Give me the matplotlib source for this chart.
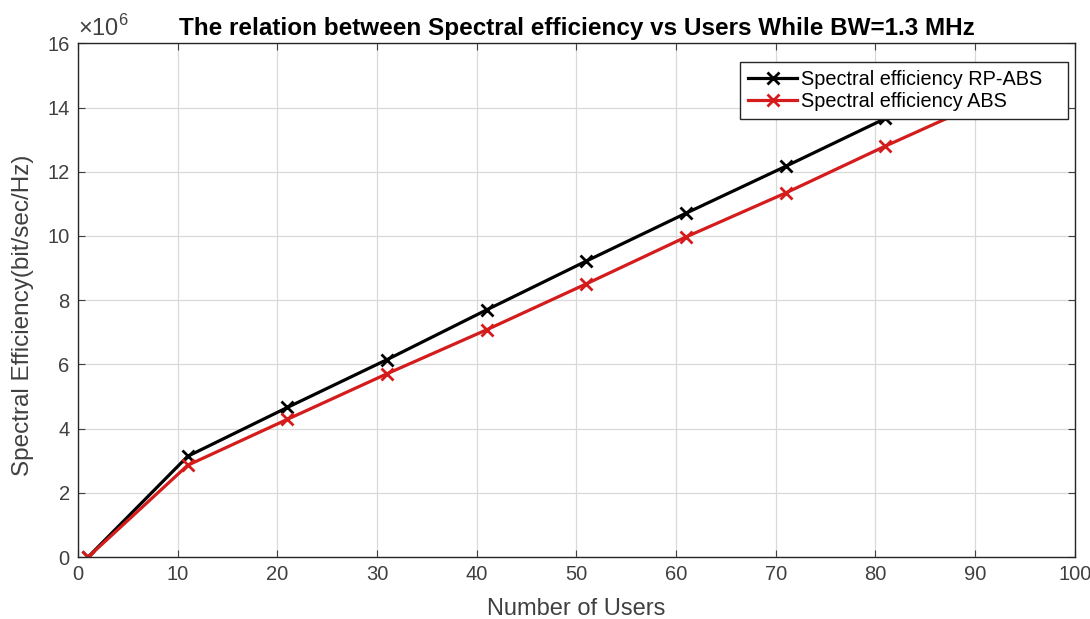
import numpy as np
import matplotlib.pyplot as plt

plt.rcParams['font.family'] = ['Liberation Sans', 'DejaVu Sans']
plt.rcParams['mathtext.fontset'] = 'custom'
plt.rcParams['mathtext.rm'] = 'Liberation Sans'

# number of users
users = [1, 11, 21, 31, 41, 51, 61, 71, 81, 91]
# spectral efficiency (x 1e6)
se_rpabs = [0, 3.14, 4.66, 6.15, 7.70, 9.22, 10.71, 12.17, 13.66, 15.15]
se_abs = [0, 2.86, 4.29, 5.71, 7.08, 8.51, 9.97, 11.34, 12.80, 14.20]

fig = plt.figure(figsize=(10.9, 6.19), dpi=100)
ax = fig.add_axes([0.0716, 0.100, 0.9144, 0.830])

ax.plot(users, np.array(se_rpabs) * 1e6, color='black', lw=2.3, marker='x',
        ms=9, mew=2, label='Spectral efficiency RP-ABS')
ax.plot(users, np.array(se_abs) * 1e6, color='#d41c1c', lw=2.3, marker='x',
        ms=9, mew=2, label='Spectral efficiency ABS')

ax.set_xlim(0, 100)
ax.set_ylim(0, 16e6)
ax.set_xticks(range(0, 101, 10))
ax.set_yticks(np.arange(0, 17, 2) * 1e6)
ax.set_yticklabels([str(v) for v in range(0, 17, 2)])
ax.text(0.0, 1.004, r'$\times\mathrm{10}^{\mathrm{6}}$', transform=ax.transAxes,
        fontsize=17, color='#404040', ha='left', va='bottom')

ax.grid(True, color='#d9d9d9', lw=0.9)
ax.set_axisbelow(True)
ax.tick_params(direction='in', top=True, right=True, labelsize=14.5,
               colors='#404040', length=5, pad=6)
for s in ax.spines.values():
    s.set_color('#262626')
    s.set_linewidth(1.0)

ax.set_xlabel('Number of Users', fontsize=17, color='#404040', labelpad=10)
ax.set_ylabel('Spectral Efficiency(bit/sec/Hz)', fontsize=17.5, color='#404040')
ax.yaxis.set_label_coords(-0.044, 0.47)
ax.set_title('The relation between Spectral efficiency vs Users While BW=1.3 MHz',
             fontsize=17.5, fontweight='bold', pad=6)

# legend box stretched to the width seen in the picture
leg = ax.legend(loc='upper left', bbox_to_anchor=(0.664, 0.5, 0.329, 0.463),
                mode='expand', fontsize=14.3, frameon=True, fancybox=False,
                framealpha=1, borderpad=0.4, borderaxespad=0, handlelength=2.5,
                handletextpad=0.2, labelspacing=0.15)
leg.get_frame().set_edgecolor('#262626')
leg.get_frame().set_linewidth(1.0)

fig.savefig('out.png', dpi=100)
